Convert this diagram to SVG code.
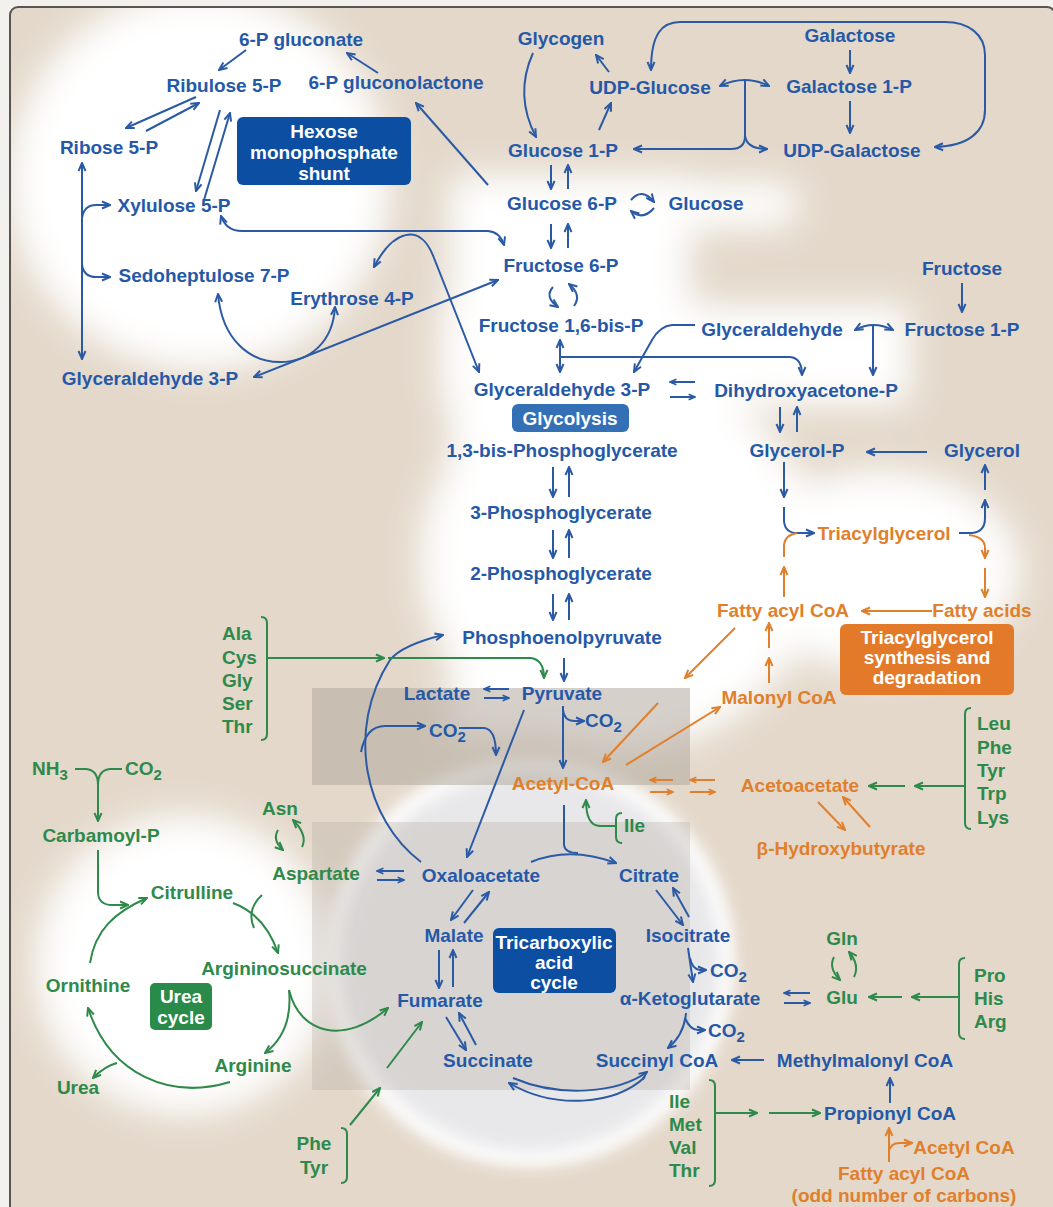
<svg xmlns="http://www.w3.org/2000/svg" width="1053" height="1207" viewBox="0 0 1053 1207">
<defs>
<style>
.t{font-family:"Liberation Sans",Arial,Helvetica,sans-serif;font-weight:bold;font-size:19px}
.m{text-anchor:middle}
.tb{fill:#2559a8}
.tg{fill:#2e8a4b}
.to{fill:#e07f2c}
.tw{fill:#ffffff}
.lb{fill:none;stroke:#2b5aa5;stroke-width:2}
.lg{fill:none;stroke:#2e8a4b;stroke-width:2}
.lo{fill:none;stroke:#e07f2c;stroke-width:2}
.eb{marker-end:url(#mb)}.sb{marker-start:url(#mb)}
.ebs{marker-end:url(#mbs)}
.eg{marker-end:url(#mg)}
.eo{marker-end:url(#mo)}.eos{marker-end:url(#mos)}
</style>
<marker id="mb" viewBox="0 0 10 10" refX="9" refY="5" markerWidth="10" markerHeight="10" markerUnits="userSpaceOnUse" orient="auto-start-reverse"><path d="M1,1.5 L9,5 L1,8.5" fill="none" stroke="#2b5aa5" stroke-width="2"/></marker>
<marker id="mbs" viewBox="0 0 10 10" refX="9" refY="5" markerWidth="8" markerHeight="8" markerUnits="userSpaceOnUse" orient="auto-start-reverse"><path d="M1,1.5 L9,5 L1,8.5" fill="none" stroke="#2b5aa5" stroke-width="2"/></marker>
<marker id="mg" viewBox="0 0 10 10" refX="9" refY="5" markerWidth="10" markerHeight="10" markerUnits="userSpaceOnUse" orient="auto-start-reverse"><path d="M1,1.5 L9,5 L1,8.5" fill="none" stroke="#2e8a4b" stroke-width="2"/></marker>
<marker id="mo" viewBox="0 0 10 10" refX="9" refY="5" markerWidth="10" markerHeight="10" markerUnits="userSpaceOnUse" orient="auto-start-reverse"><path d="M1,1.5 L9,5 L1,8.5" fill="none" stroke="#e07f2c" stroke-width="2"/></marker>
<marker id="mos" viewBox="0 0 10 10" refX="9" refY="5" markerWidth="8" markerHeight="8" markerUnits="userSpaceOnUse" orient="auto-start-reverse"><path d="M1,1.5 L9,5 L1,8.5" fill="none" stroke="#e07f2c" stroke-width="2"/></marker>
<filter id="soft" x="-30%" y="-30%" width="160%" height="160%"><feGaussianBlur stdDeviation="18"/></filter>
<filter id="soft2" x="-30%" y="-30%" width="160%" height="160%"><feGaussianBlur stdDeviation="8"/></filter>
<clipPath id="frame"><rect x="10" y="7" width="1045" height="1210" rx="8"/></clipPath>
</defs>

<g id="background">
<rect x="0" y="0" width="1053" height="1207" fill="#f3f1ee"/>
<rect x="10" y="7" width="1045" height="1210" rx="8" fill="#e3d8ca"/>
<g clip-path="url(#frame)">
<g filter="url(#soft)" fill="#ffffff">
<circle cx="200" cy="180" r="190"/>
<rect x="450" y="175" width="240" height="560"/>
<rect x="455" y="182" width="345" height="46" rx="23"/>
<rect x="440" y="305" width="470" height="100"/>
<ellipse cx="620" cy="560" rx="200" ry="190"/>
<ellipse cx="880" cy="570" rx="140" ry="100"/>
<circle cx="185" cy="965" r="150"/>
</g>
<circle cx="530" cy="962" r="205" fill="#ffffff" filter="url(#soft2)"/>
<circle cx="530" cy="962" r="190" fill="#e8e7e9" filter="url(#soft2)"/>
<rect x="312" y="688" width="378" height="97" fill="#b3a99e" opacity="0.55"/>
<rect x="312" y="822" width="378" height="268" fill="#b3a99e" opacity="0.3"/>
</g>
<rect x="10" y="7" width="1045" height="1210" rx="8" fill="none" stroke="#5a5550" stroke-width="2"/>
</g>

<g id="connectors">
<!-- pentose phosphate -->
<path class="lb eb" d="M246,50 L219,70"/>
<path class="lb eb" d="M378,73 L347,53"/>
<path class="lb eb" d="M196,97 L126,128"/>
<path class="lb eb" d="M146,131 L199,103"/>
<path class="lb eb" d="M220,110 L196,191"/>
<path class="lb eb" d="M204,200 L230,113"/>
<path class="lb eb sb" d="M82,163 L82,359"/>
<path class="lb eb" d="M82,218 Q84,205 96,205 L110,205"/>
<path class="lb eb" d="M82,265 Q84,277 96,277 L110,277"/>
<path class="lb eb sb" d="M221,216 Q226,231 242,231 L488,231 Q500,232 504,245"/>
<path class="lb eb sb" d="M374,267 C392,232 420,220 434,258 L479,372"/>
<path class="lb eb sb" d="M254,377 L498,280"/>
<path class="lb eb sb" d="M218,294 C222,340 250,362 280,362 C310,362 333,342 335,307"/>
<path class="lb eb" d="M488,185 L416,103"/>
<!-- glycogen / galactose -->
<path class="lb eb" d="M533,53 Q514,95 536,137"/>
<path class="lb eb" d="M609,72 L596,55"/>
<path class="lb eb" d="M599,130 L611,103"/>
<path class="lb eb sb" d="M935,147 C968,146 985,132 985,110 L985,55 C985,34 968,22 945,22 L680,22 C662,22 651,34 651,70"/>
<path class="lb eb" d="M850,50 L850,73"/>
<path class="lb eb" d="M850,101 L850,133"/>
<path class="lb eb sb" d="M720,86 Q745,74 769,86"/>
<path class="lb" d="M745,80 L745,138"/>
<path class="lb eb" d="M745,136 Q745,149 731,149 L634,149"/>
<path class="lb eb" d="M745,136 Q747,149 767,149"/>
<!-- glycolysis -->
<path class="lb eb" d="M551,165 L551,189"/>
<path class="lb eb" d="M568,189 L568,165"/>
<path class="lb eb" d="M631,200 Q642,187 654,202"/>
<path class="lb eb" d="M654,208 Q643,221 631,211"/>
<path class="lb eb" d="M551,224 L551,248"/>
<path class="lb eb" d="M568,248 L568,224"/>
<path class="lb eb" d="M553,287 Q544,297 558,307"/>
<path class="lb eb" d="M574,306 Q582,295 569,284"/>
<path class="lb eb sb" d="M560,340 L560,372"/>
<path class="lb eb" d="M560,357 L790,357 Q802,358 802,375"/>
<path class="lb eb" d="M695,325 L672,325 Q660,326 652,340 L634,372"/>
<path class="lb eb sb" d="M855,330 Q873,320 893,330"/>
<path class="lb eb" d="M873,326 L873,375"/>
<path class="lb eb" d="M962,283 L962,312"/>
<path class="lb ebs" d="M695,382 L670,382"/>
<path class="lb ebs" d="M670,397 L695,397"/>
<path class="lb eb" d="M780,407 L780,432"/>
<path class="lb eb" d="M797,432 L797,407"/>
<path class="lb eb" d="M927,452 L867,452"/>
<path class="lb eb" d="M553,467 L553,497"/>
<path class="lb eb" d="M569,497 L569,467"/>
<path class="lb eb" d="M553,530 L553,558"/>
<path class="lb eb" d="M569,558 L569,530"/>
<path class="lb eb" d="M553,594 L553,620"/>
<path class="lb eb" d="M569,620 L569,594"/>
<path class="lb eb" d="M564,658 L564,681"/>
<path class="lb ebs" d="M509,689 L484,689"/>
<path class="lb ebs" d="M484,698 L509,698"/>
<path class="lb eb" d="M563,706 L563,768"/>
<path class="lb eb" d="M563,710 Q564,721 575,721 L584,721"/>
<path class="lb eb" d="M524,710 L467,857"/>
<path class="lb eb" d="M421,862 C365,820 345,730 390,660 Q402,645 443,635"/>
<path class="lb eb" d="M361,752 Q366,726 385,726 L425,726"/>
<path class="lb eb" d="M459,728 L484,728 Q496,729 496,755"/>
<!-- TCA -->
<path class="lb eb" d="M531,862 Q570,846 616,863"/>
<path class="lb" d="M564,805 L564,845 Q565,853 578,853"/>
<path class="lb ebs" d="M404,871 L377,871"/>
<path class="lb ebs" d="M377,880 L404,880"/>
<path class="lb eb" d="M473,890 L451,920"/>
<path class="lb eb" d="M464,923 L489,892"/>
<path class="lb eb" d="M439,950 L439,988"/>
<path class="lb eb" d="M453,987 L453,950"/>
<path class="lb eb" d="M446,1017 L466,1050"/>
<path class="lb eb" d="M476,1045 L459,1013"/>
<path class="lb eb" d="M645,1077 C615,1105 555,1110 509,1083"/>
<path class="lb eb" d="M513,1078 C560,1098 618,1093 647,1072"/>
<path class="lb eb" d="M656,890 L683,925"/>
<path class="lb eb" d="M689,917 L673,888"/>
<path class="lb eb" d="M688,948 L693,982"/>
<path class="lb eb" d="M690,958 Q692,969 700,970 L706,970"/>
<path class="lb eb" d="M686,1013 Q684,1035 668,1048"/>
<path class="lb eb" d="M685,1018 Q690,1030 698,1030 L705,1030"/>
<path class="lb ebs" d="M810,993 L784,993"/>
<path class="lb ebs" d="M784,1003 L810,1003"/>
<path class="lb eb" d="M764,1060 L732,1060"/>
<path class="lb eb" d="M890,1103 L890,1078"/>
<!-- triacylglycerol -->
<path class="lb eb" d="M784,462 L784,497"/>
<path class="lb eb" d="M784,507 L784,521 Q785,533 797,533 L814,533"/>
<path class="lb eb" d="M959,533 L972,533 Q985,532 985,518 L985,500"/>
<path class="lb eb" d="M985,490 L985,465"/>
<path class="lo eo" d="M969,535 Q985,537 985,548 L985,558"/>
<path class="lo eo" d="M985,568 L985,597"/>
<path class="lo eo" d="M784,597 L784,567"/>
<path class="lo" d="M784,557 L784,545 Q785,535 797,533"/>
<path class="lo eo" d="M932,611 L862,611"/>
<path class="lo eo" d="M769,683 L769,658"/>
<path class="lo eo" d="M769,648 L769,623"/>
<path class="lo eo" d="M735,628 L685,678"/>
<path class="lo eo" d="M658,703 L603,762"/>
<path class="lo eo" d="M626,765 L720,707"/>
<path class="lo eos" d="M673,780 L650,780"/>
<path class="lo eos" d="M650,792 L673,792"/>
<path class="lo eos" d="M715,780 L690,780"/>
<path class="lo eos" d="M690,792 L715,792"/>
<path class="lo eo" d="M818,802 L845,830"/>
<path class="lo eo" d="M870,827 L843,797"/>
<path class="lo eo" d="M889,1162 L889,1128"/>
<path class="lo eo" d="M889,1152 Q890,1143 900,1143 L912,1143"/>
<!-- amino acids / urea cycle -->
<path class="lg" d="M261,617 Q267,617 267,623 L267,734 Q267,740 261,740"/>
<path class="lg eg" d="M267,658 L384,658"/>
<path class="lg eg" d="M388,658 L531,658 Q544,660 544,678"/>
<path class="lg" d="M75,769 L86,769 Q98,770 98,785"/>
<path class="lg" d="M122,769 L110,769 Q98,770 98,785"/>
<path class="lg eg" d="M98,784 L98,821"/>
<path class="lg eg" d="M98,850 L98,893 Q99,905 112,905 L128,905"/>
<path class="lg eg" d="M90,963 C95,930 115,912 147,898"/>
<path class="lg eg" d="M233,903 Q265,915 278,953"/>
<path class="lg" d="M262,895 Q246,910 254,928"/>
<path class="lg eg" d="M278,830 Q272,840 283,850"/>
<path class="lg eg" d="M302,847 Q308,835 293,820"/>
<path class="lg eg" d="M289,990 C292,1020 282,1040 265,1053"/>
<path class="lg eg" d="M289,990 C300,1035 345,1045 388,1008"/>
<path class="lg eg" d="M230,1082 C170,1100 110,1075 88,1008"/>
<path class="lg eg" d="M117,1063 Q105,1066 93,1078"/>
<path class="lg" d="M341,1128 Q347,1128 347,1134 L347,1177 Q347,1183 341,1183"/>
<path class="lg eg" d="M350,1125 L380,1088"/>
<path class="lg eg" d="M387,1068 L422,1022"/>
<path class="lg" d="M622,813 Q616,813 616,819 L616,837 Q616,843 622,843"/>
<path class="lg eg" d="M616,826 L600,826 Q586,826 586,800"/>
<path class="lg" d="M971,708 Q965,708 965,714 L965,823 Q965,829 971,829"/>
<path class="lg eg" d="M965,786 L915,786"/>
<path class="lg eg" d="M905,786 L869,786"/>
<path class="lg eg" d="M834,957 Q828,968 840,980"/>
<path class="lg eg" d="M854,977 Q860,965 849,952"/>
<path class="lg" d="M965,958 Q959,958 959,964 L959,1033 Q959,1039 965,1039"/>
<path class="lg eg" d="M959,997 L912,997"/>
<path class="lg eg" d="M902,997 L869,997"/>
<path class="lg" d="M709,1080 Q715,1080 715,1086 L715,1180 Q715,1186 709,1186"/>
<path class="lg eg" d="M715,1113 L757,1113"/>
<path class="lg eg" d="M769,1113 L820,1113"/>
</g>

<!-- boxes -->
<g id="box-hexose"><rect x="237" y="117" width="174" height="68" rx="6" fill="#0b4ea2"/><text class="t tw m" x="324" y="138">Hexose</text><text class="t tw m" x="324" y="159">monophosphate</text><text class="t tw m" x="324" y="180">shunt</text></g>
<g id="box-glycolysis"><rect x="512" y="404" width="117" height="28" rx="6" fill="#3470b6"/><text class="t tw m" x="570" y="425">Glycolysis</text></g>
<g id="box-tca"><rect x="493" y="928" width="123" height="65" rx="6" fill="#0b4ea2"/><text class="t tw m" x="554" y="949">Tricarboxylic</text><text class="t tw m" x="554" y="969">acid</text><text class="t tw m" x="554" y="989">cycle</text></g>
<g id="box-tag"><rect x="840" y="624" width="174" height="71" rx="6" fill="#e27a2a"/><text class="t tw m" x="927" y="644">Triacylglycerol</text><text class="t tw m" x="927" y="664">synthesis and</text><text class="t tw m" x="927" y="684">degradation</text></g>
<g id="box-urea"><rect x="150" y="983" width="62" height="47" rx="5" fill="#2a8a4a"/><text class="t tw m" x="181" y="1003">Urea</text><text class="t tw m" x="181" y="1024">cycle</text></g>

<!-- blue nodes -->
<g id="n-6pgluconate"><text class="t tb m" x="301" y="46">6-P gluconate</text></g>
<g id="n-ribulose5p"><text class="t tb m" x="224" y="92">Ribulose 5-P</text></g>
<g id="n-6pgluconolactone"><text class="t tb m" x="396" y="89">6-P gluconolactone</text></g>
<g id="n-ribose5p"><text class="t tb m" x="109" y="154">Ribose 5-P</text></g>
<g id="n-xylulose5p"><text class="t tb m" x="174" y="212">Xylulose 5-P</text></g>
<g id="n-sedoheptulose7p"><text class="t tb m" x="204" y="282">Sedoheptulose 7-P</text></g>
<g id="n-erythrose4p"><text class="t tb m" x="352" y="305">Erythrose 4-P</text></g>
<g id="n-g3p-left"><text class="t tb m" x="150" y="385">Glyceraldehyde 3-P</text></g>
<g id="n-glycogen"><text class="t tb m" x="561" y="45">Glycogen</text></g>
<g id="n-udpglucose"><text class="t tb m" x="650" y="94">UDP-Glucose</text></g>
<g id="n-galactose"><text class="t tb m" x="850" y="42">Galactose</text></g>
<g id="n-galactose1p"><text class="t tb m" x="849" y="93">Galactose 1-P</text></g>
<g id="n-udpgalactose"><text class="t tb m" x="852" y="157">UDP-Galactose</text></g>
<g id="n-glucose1p"><text class="t tb m" x="563" y="157">Glucose 1-P</text></g>
<g id="n-glucose6p"><text class="t tb m" x="562" y="210">Glucose 6-P</text></g>
<g id="n-glucose"><text class="t tb m" x="706" y="210">Glucose</text></g>
<g id="n-fructose6p"><text class="t tb m" x="561" y="272">Fructose 6-P</text></g>
<g id="n-fructose"><text class="t tb m" x="962" y="275">Fructose</text></g>
<g id="n-f16bp"><text class="t tb m" x="561" y="332">Fructose 1,6-bis-P</text></g>
<g id="n-glyceraldehyde"><text class="t tb m" x="772" y="336">Glyceraldehyde</text></g>
<g id="n-fructose1p"><text class="t tb m" x="962" y="336">Fructose 1-P</text></g>
<g id="n-g3p"><text class="t tb m" x="562" y="396">Glyceraldehyde 3-P</text></g>
<g id="n-dhap"><text class="t tb m" x="806" y="397">Dihydroxyacetone-P</text></g>
<g id="n-13bpg"><text class="t tb m" x="562" y="457">1,3-bis-Phosphoglycerate</text></g>
<g id="n-glycerolp"><text class="t tb m" x="797" y="457">Glycerol-P</text></g>
<g id="n-glycerol"><text class="t tb m" x="982" y="457">Glycerol</text></g>
<g id="n-3pg"><text class="t tb m" x="561" y="519">3-Phosphoglycerate</text></g>
<g id="n-2pg"><text class="t tb m" x="561" y="580">2-Phosphoglycerate</text></g>
<g id="n-pep"><text class="t tb m" x="562" y="644">Phosphoenolpyruvate</text></g>
<g id="n-lactate"><text class="t tb m" x="437" y="700">Lactate</text></g>
<g id="n-pyruvate"><text class="t tb m" x="562" y="700">Pyruvate</text></g>
<g id="n-co2-pdh"><text class="t tb" x="585" y="727">CO<tspan dy="5" font-size="15">2</tspan></text></g>
<g id="n-co2-pc"><text class="t tb" x="429" y="737">CO<tspan dy="5" font-size="15">2</tspan></text></g>
<g id="n-oxaloacetate"><text class="t tb m" x="481" y="882">Oxaloacetate</text></g>
<g id="n-citrate"><text class="t tb m" x="649" y="882">Citrate</text></g>
<g id="n-malate"><text class="t tb m" x="454" y="942">Malate</text></g>
<g id="n-isocitrate"><text class="t tb m" x="688" y="942">Isocitrate</text></g>
<g id="n-fumarate"><text class="t tb m" x="440" y="1007">Fumarate</text></g>
<g id="n-akg"><text class="t tb m" x="690" y="1005">α-Ketoglutarate</text></g>
<g id="n-co2-idh"><text class="t tb" x="710" y="977">CO<tspan dy="5" font-size="15">2</tspan></text></g>
<g id="n-co2-akgdh"><text class="t tb" x="708" y="1037">CO<tspan dy="5" font-size="15">2</tspan></text></g>
<g id="n-succinate"><text class="t tb m" x="488" y="1067">Succinate</text></g>
<g id="n-succinylcoa"><text class="t tb m" x="657" y="1067">Succinyl CoA</text></g>
<g id="n-methylmalonylcoa"><text class="t tb m" x="865" y="1067">Methylmalonyl CoA</text></g>
<g id="n-propionylcoa"><text class="t tb m" x="890" y="1120">Propionyl CoA</text></g>

<!-- orange nodes -->
<g id="n-triacylglycerol"><text class="t to m" x="884" y="540">Triacylglycerol</text></g>
<g id="n-fattyacylcoa"><text class="t to m" x="783" y="617">Fatty acyl CoA</text></g>
<g id="n-fattyacids"><text class="t to m" x="982" y="617">Fatty acids</text></g>
<g id="n-malonylcoa"><text class="t to m" x="779" y="704">Malonyl CoA</text></g>
<g id="n-acetylcoa"><text class="t to m" x="563" y="790">Acetyl-CoA</text></g>
<g id="n-acetoacetate"><text class="t to m" x="800" y="792">Acetoacetate</text></g>
<g id="n-hydroxybutyrate"><text class="t to m" x="841" y="855">β-Hydroxybutyrate</text></g>
<g id="n-acetylcoa2"><text class="t to m" x="964" y="1154">Acetyl CoA</text></g>
<g id="n-oddfattyacyl"><text class="t to m" x="904" y="1180">Fatty acyl CoA</text><text class="t to m" x="904" y="1202">(odd number of carbons)</text></g>

<!-- green nodes -->
<g id="n-aa-pyruvate"><text class="t tg" x="222" y="640">Ala</text><text class="t tg" x="222" y="664">Cys</text><text class="t tg" x="222" y="687">Gly</text><text class="t tg" x="222" y="710">Ser</text><text class="t tg" x="222" y="733">Thr</text></g>
<g id="n-nh3"><text class="t tg" x="32" y="775">NH<tspan dy="5" font-size="15">3</tspan></text></g>
<g id="n-co2-urea"><text class="t tg" x="125" y="775">CO<tspan dy="5" font-size="15">2</tspan></text></g>
<g id="n-carbamoylp"><text class="t tg m" x="101" y="842">Carbamoyl-P</text></g>
<g id="n-asn"><text class="t tg m" x="280" y="815">Asn</text></g>
<g id="n-aspartate"><text class="t tg m" x="316" y="880">Aspartate</text></g>
<g id="n-citrulline"><text class="t tg m" x="192" y="899">Citrulline</text></g>
<g id="n-argininosuccinate"><text class="t tg m" x="284" y="975">Argininosuccinate</text></g>
<g id="n-ornithine"><text class="t tg m" x="88" y="992">Ornithine</text></g>
<g id="n-arginine"><text class="t tg m" x="253" y="1072">Arginine</text></g>
<g id="n-urea"><text class="t tg m" x="78" y="1094">Urea</text></g>
<g id="n-phetyr"><text class="t tg m" x="314" y="1150">Phe</text><text class="t tg m" x="314" y="1174">Tyr</text></g>
<g id="n-ile"><text class="t tg" x="624" y="832">Ile</text></g>
<g id="n-aa-acetoacetate"><text class="t tg" x="977" y="730">Leu</text><text class="t tg" x="977" y="754">Phe</text><text class="t tg" x="977" y="777">Tyr</text><text class="t tg" x="977" y="800">Trp</text><text class="t tg" x="977" y="824">Lys</text></g>
<g id="n-gln"><text class="t tg m" x="842" y="945">Gln</text></g>
<g id="n-glu"><text class="t tg m" x="842" y="1004">Glu</text></g>
<g id="n-aa-glu"><text class="t tg" x="974" y="982">Pro</text><text class="t tg" x="974" y="1005">His</text><text class="t tg" x="974" y="1028">Arg</text></g>
<g id="n-aa-propionyl"><text class="t tg" x="669" y="1108">Ile</text><text class="t tg" x="669" y="1131">Met</text><text class="t tg" x="669" y="1154">Val</text><text class="t tg" x="669" y="1177">Thr</text></g>
</svg>
